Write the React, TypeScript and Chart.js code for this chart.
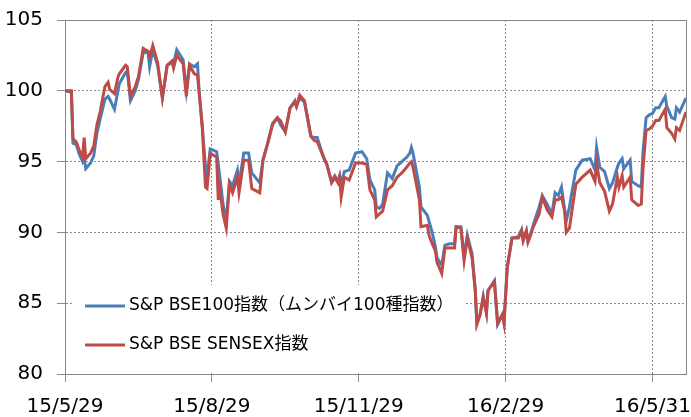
import React, { useEffect, useRef } from "react";
import { Chart, registerables } from "chart.js";

Chart.register(...registerables);

// Trading-day positions, in days since 2015/5/29
const dayOffsets = [
  0, 4, 5, 7, 9, 11, 12, 13, 16, 18, 20, 22, 25, 27, 28, 31, 33, 34, 38, 39,
  41, 44, 46, 49, 52, 53, 55, 58, 61, 64, 67, 68, 70, 74, 76, 78, 81, 83, 84, 86,
  88, 89, 91, 95, 96, 97, 99, 101, 103, 105, 108, 109, 112, 115, 117, 122, 124, 127, 130, 133,
  135, 138, 141, 144, 145, 147, 150, 154, 156, 158, 162, 164, 167, 169, 171, 172, 173, 175, 178, 182,
  186, 189, 191, 194, 195, 197, 199, 202, 205, 208, 211, 214, 216, 217, 218, 222, 223, 227, 228, 230,
  232, 233, 236, 238, 241, 244, 245, 248, 250, 252, 255, 257, 258, 260, 262, 264, 265, 269, 271, 274,
  275, 277, 280, 284, 286, 287, 289, 290, 292, 293, 297, 299, 302, 305, 307, 309, 311, 313, 314, 316,
  317, 320, 324, 329, 332, 333, 335, 338, 341, 343, 346, 347, 349, 350, 354, 355, 359, 361, 362, 364,
  366, 368, 370, 372, 376, 377, 380, 382, 383, 385, 389,
];

const bse100 = [
  100.0, 99.9, 96.3, 96.2, 95.5, 95.0, 95.3, 94.5, 94.9, 95.4, 97.0, 98.0, 99.4, 99.6, 99.4, 98.7, 99.9, 100.5, 101.3, 101.4,
  99.3, 100.0, 100.8, 102.7, 102.7, 101.7, 102.9, 101.8, 99.5, 101.8, 102.0, 101.9, 102.9, 102.2, 100.0, 101.9, 101.7, 101.9, 100.0, 97.5,
  94.6, 93.9, 95.9, 95.7, 94.8, 93.9, 92.0, 90.8, 93.6, 93.3, 94.4, 93.4, 95.6, 95.6, 94.2, 93.5, 95.1, 96.3, 97.7, 98.1,
  97.6, 97.1, 98.8, 99.3, 98.9, 99.5, 99.2, 96.8, 96.7, 96.7, 95.3, 94.8, 93.6, 94.0, 93.6, 94.0, 93.5, 94.3, 94.4, 95.6,
  95.7, 95.2, 93.7, 93.0, 91.8, 91.7, 92.0, 94.2, 93.8, 94.7, 95.0, 95.3, 95.6, 96.0, 95.6, 93.2, 91.8, 91.2, 90.8, 90.0,
  89.0, 88.2, 87.7, 89.1, 89.2, 89.2, 90.4, 90.4, 88.3, 89.8, 88.5, 85.9, 83.6, 84.2, 85.5, 84.3, 85.9, 86.6, 83.5, 84.2,
  83.6, 87.5, 89.6, 89.7, 90.2, 89.5, 90.1, 89.4, 90.0, 90.4, 91.8, 92.6, 92.0, 91.3, 92.8, 92.6, 93.2, 91.6, 90.8, 91.8,
  92.5, 94.4, 95.1, 95.2, 94.4, 96.0, 94.6, 94.3, 93.1, 93.5, 94.6, 94.9, 95.2, 94.5, 95.1, 93.6, 93.3, 93.2, 95.6, 98.1,
  98.3, 98.4, 98.8, 98.8, 99.6, 98.9, 98.1, 98.0, 98.8, 98.5, 99.5,
];

const sensex = [
  100.0, 100.0, 96.6, 96.4, 95.8, 95.3, 96.7, 95.2, 95.6, 96.1, 97.6, 98.5, 100.3, 100.6, 100.1, 99.8, 100.9, 101.2, 101.8, 101.7,
  99.6, 100.3, 101.0, 103.0, 102.8, 102.4, 103.2, 102.0, 99.5, 101.8, 102.1, 101.6, 102.5, 101.9, 99.6, 101.8, 101.2, 101.1, 99.9, 97.4,
  93.2, 93.1, 95.6, 95.3, 92.3, 93.0, 91.3, 90.3, 93.4, 92.8, 93.9, 92.8, 95.1, 95.1, 93.1, 92.8, 95.1, 96.3, 97.6, 98.1,
  97.9, 97.1, 98.8, 99.2, 98.9, 99.7, 99.3, 96.8, 96.5, 96.4, 95.3, 94.8, 93.5, 93.9, 93.5, 93.9, 92.5, 93.9, 93.7, 94.9,
  94.9, 94.8, 93.0, 92.3, 91.1, 91.3, 91.5, 93.0, 93.3, 93.9, 94.2, 94.6, 94.9, 95.0, 94.6, 92.3, 90.4, 90.5, 89.8, 89.2,
  88.7, 87.9, 87.1, 88.9, 88.9, 88.9, 90.4, 90.3, 88.0, 89.6, 88.2, 85.9, 83.5, 84.2, 85.4, 84.3, 85.9, 86.5, 83.6, 84.2,
  83.6, 87.5, 89.6, 89.6, 90.1, 89.4, 90.1, 89.3, 89.9, 90.3, 91.3, 92.5, 91.6, 91.1, 92.3, 92.3, 92.5, 91.5, 90.0, 90.3,
  91.1, 93.4, 93.9, 94.4, 93.6, 94.9, 93.5, 92.9, 91.5, 92.0, 93.9, 93.2, 94.0, 93.2, 93.9, 92.3, 91.9, 92.0, 94.4, 97.2,
  97.3, 97.5, 97.9, 97.9, 98.7, 97.4, 97.0, 96.6, 97.4, 97.2, 98.5,
];

const seriesNames = ["S&P BSE100指数（ムンバイ100種指数）", "S&P BSE SENSEX指数"];
const seriesColors = ["#4A7EBB", "#BE4B48"];
const xTickDays = [0, 92, 184, 276, 368];
const xTickLabels = ["15/5/29", "15/8/29", "15/11/29", "16/2/29", "16/5/31"];
const yMin = 80;
const yMax = 105;
const yStep = 5;
const xMax = 389;

const TICK_FONT = '"DejaVu Sans", "Noto Sans", sans-serif';
const LEGEND_FONT = '"DejaVu Sans", "Noto Sans CJK JP", sans-serif';

const framePlugin = {
  id: "frameAndLegend",
  beforeDatasetsDraw(chart: any) {
    const { ctx, chartArea: a } = chart;
    ctx.save();
    ctx.strokeStyle = "#868686";
    ctx.lineWidth = 1;
    ctx.setLineDash([]);
    ctx.beginPath();
    ctx.moveTo(a.left, Math.round(a.top) + 0.5);
    ctx.lineTo(Math.round(a.right) + 0.5, Math.round(a.top) + 0.5);
    ctx.lineTo(Math.round(a.right) + 0.5, a.bottom);
    ctx.stroke();
    ctx.restore();
  },
  afterDatasetsDraw(chart: any) {
    const { ctx, chartArea: a } = chart;
    ctx.save();
    const bx = a.left + 8;
    const by = a.bottom - 89;
    ctx.fillStyle = "#ffffff";
    ctx.fillRect(bx, by, 392, 88);
    const rows = [a.bottom - 68, a.bottom - 29];
    ctx.font = `17px ${LEGEND_FONT}`;
    ctx.textBaseline = "middle";
    ctx.textAlign = "left";
    seriesNames.forEach((name, i) => {
      const y = rows[i];
      ctx.strokeStyle = seriesColors[i];
      ctx.lineWidth = 3;
      ctx.beginPath();
      ctx.moveTo(a.left + 20, y);
      ctx.lineTo(a.left + 60, y);
      ctx.stroke();
      ctx.fillStyle = "#000000";
      ctx.fillText(name, a.left + 64, y);
    });
    ctx.restore();
  },
};

export default function App() {
  const ref = useRef<HTMLCanvasElement | null>(null);

  useEffect(() => {
    if (!ref.current) return;
    const toPts = (vals: number[]) => vals.map((v, i) => ({ x: dayOffsets[i], y: v }));
    const chart = new Chart(ref.current, {
      type: "line",
      data: {
        datasets: [
          {
            label: seriesNames[0],
            data: toPts(bse100),
            borderColor: seriesColors[0],
            backgroundColor: seriesColors[0],
            borderWidth: 3,
            pointRadius: 0,
            tension: 0,
            order: 1,
          },
          {
            label: seriesNames[1],
            data: toPts(sensex),
            borderColor: seriesColors[1],
            backgroundColor: seriesColors[1],
            borderWidth: 3,
            pointRadius: 0,
            tension: 0,
            order: 0,
          },
        ],
      },
      options: {
        animation: false,
        responsive: true,
        maintainAspectRatio: false,
        layout: { padding: { top: 20, right: 5, left: 0, bottom: 0 } },
        plugins: { legend: { display: false }, tooltip: { enabled: false } },
        scales: {
          x: {
            type: "linear",
            min: 0,
            max: xMax,
            afterBuildTicks: (scale: any) => {
              scale.ticks = xTickDays.map((v) => ({ value: v }));
            },
            afterFit: (scale: any) => {
              scale.height = 43;
              scale.paddingLeft = 0;
              scale.paddingRight = 0;
            },
            ticks: {
              autoSkip: false,
              maxRotation: 0,
              minRotation: 0,
              padding: 13,
              color: "#000000",
              font: { family: TICK_FONT, size: 20 },
              callback: (v: any) => {
                const idx = xTickDays.indexOf(Number(v));
                return idx >= 0 ? xTickLabels[idx] : "";
              },
            },
            grid: {
              color: "#8c8c8c",
              lineWidth: 1,
              tickLength: 8,
              tickColor: "#8c8c8c",
              tickBorderDash: [],
            },
            border: { display: true, color: "#868686", width: 1, dash: [2, 2] },
          },
          y: {
            min: yMin,
            max: yMax,
            afterFit: (scale: any) => {
              scale.width = 65;
              scale.paddingTop = 0;
              scale.paddingBottom = 0;
            },
            ticks: {
              stepSize: yStep,
              padding: 14,
              color: "#000000",
              font: { family: TICK_FONT, size: 20 },
            },
            grid: {
              color: "#8c8c8c",
              lineWidth: 1,
              tickLength: 8,
              tickColor: "#8c8c8c",
              tickBorderDash: [],
            },
            border: { display: true, color: "#868686", width: 1, dash: [2, 2] },
          },
        },
      },
      plugins: [framePlugin],
    });
    return () => chart.destroy();
  }, []);

  return (
    <div style={{ position: "fixed", left: 0, top: 0, width: 691, height: 417, background: "#fff" }}>
      <canvas ref={ref} />
    </div>
  );
}
